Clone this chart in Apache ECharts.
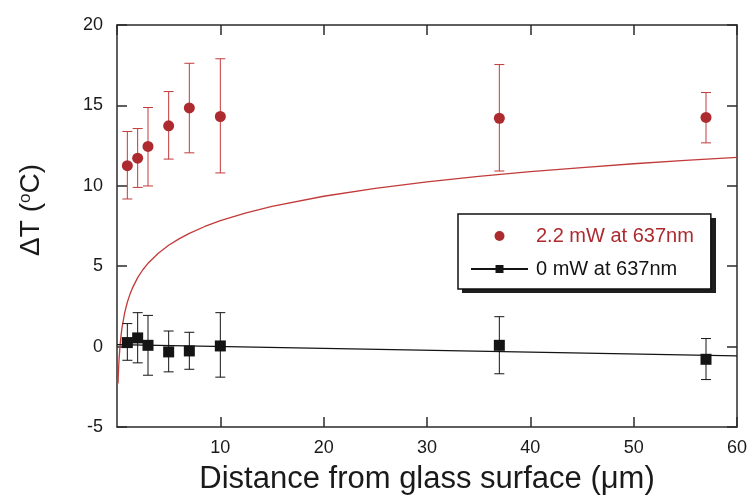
<!DOCTYPE html>
<html>
<head>
<meta charset="utf-8">
<script src="https://cdn.jsdelivr.net/npm/echarts@6/dist/echarts.min.js"></script>
<style>
  html, body { margin: 0; padding: 0; background: #fff; }
  #chart { width: 751px; height: 500px; }
</style>
</head>
<body>
<div id="chart"></div>
<script>
// Distance from the glass surface (µm) of each measurement
var distances = [1, 2, 3, 5, 7, 10, 37, 57];

// Heated sample: 2.2 mW at 637 nm
var heatedDT   = [11.25, 11.72, 12.45, 13.73, 14.84, 14.31, 14.20, 14.25];
var heatedHigh = [13.38, 13.56, 14.87, 15.86, 17.62, 17.90, 17.54, 15.80];
var heatedLow  = [ 9.18,  9.90,  9.99, 11.66, 12.05, 10.80, 10.92, 12.67];

// Control: laser off
var controlDT   = [ 0.25,  0.54,  0.08, -0.33, -0.27,  0.04,  0.08, -0.79];
var controlHigh = [ 1.43,  2.11,  1.94,  0.97,  0.89,  2.11,  1.86,  0.50];
var controlLow  = [-0.85, -1.01, -1.78, -1.57, -1.41, -1.90, -1.69, -2.05];

// Model curve for the heated sample
var modelX  = [0.1, 0.15, 0.2, 0.3, 0.4, 0.5, 0.75, 1, 1.25, 1.5, 2, 2.5, 3, 4, 5, 6, 7, 8.5, 10, 12.5, 15, 20, 25, 30, 35, 40, 45, 50, 55, 60];
var modelDT = [-2.30, -1.41, -0.78, 0.11, 0.74, 1.24, 2.13, 2.76, 3.25, 3.65, 4.29, 4.78, 5.18, 5.81, 6.30, 6.70, 7.04, 7.47, 7.83, 8.32, 8.72, 9.35, 9.84, 10.24, 10.58, 10.88, 11.13, 11.37, 11.58, 11.77];

// Linear fit of the control
var fitX  = [0, 60];
var fitDT = [0.12, -0.58];

// Axis ticks
var xTicks = [0, 10, 20, 30, 40, 50, 60];
var yTicks = [-5, 0, 5, 10, 15, 20];

var seriesNames = ['2.2 mW at 637nm', '0 mW at 637nm'];

var RED = '#ad2a2f';
var RED_LINE = '#c23a3a';
var BLACK = '#141414';
var AXIS = '#2b2b2b';
var FONT = 'Liberation Sans, Arial, sans-serif';

function pairs(xs, ys) {
  return xs.map(function (x, i) { return [x, ys[i]]; });
}

function errorBars(name, xs, lo, hi, color) {
  return {
    type: 'custom',
    name: name,
    silent: true,
    z: 3,
    clip: false,
    data: xs.map(function (x, i) { return [x, lo[i], hi[i]]; }),
    encode: { x: 0, y: [1, 2] },
    renderItem: function (params, api) {
      var x = api.value(0);
      var top = api.coord([x, api.value(2)]);
      var bot = api.coord([x, api.value(1)]);
      var hw = 5;
      var style = { stroke: color, lineWidth: 1 };
      return {
        type: 'group',
        children: [
          { type: 'line', shape: { x1: top[0], y1: top[1], x2: bot[0], y2: bot[1] }, style: style },
          { type: 'line', shape: { x1: top[0] - hw, y1: top[1], x2: top[0] + hw, y2: top[1] }, style: style },
          { type: 'line', shape: { x1: bot[0] - hw, y1: bot[1], x2: bot[0] + hw, y2: bot[1] }, style: style }
        ]
      };
    }
  };
}

var xMin = xTicks[0], xMax = xTicks[xTicks.length - 1], xStep = xTicks[1] - xTicks[0];
var yMin = yTicks[0], yMax = yTicks[yTicks.length - 1], yStep = yTicks[1] - yTicks[0];

var axisLineStyle = { color: AXIS, width: 1.5 };

// Legend box placement, plus a hard drop shadow behind it
var legendBox = { left: 458, top: 214, width: 254, height: 75, shadow: 4 };

var chart = echarts.init(document.getElementById('chart'), null, { renderer: 'canvas' });

chart.setOption({
  backgroundColor: '#fff',
  animation: false,
  grid: { left: 117, top: 25, width: 620, height: 403, containLabel: false },
  graphic: [
    {
      type: 'rect',
      z: 3,
      silent: true,
      shape: {
        x: legendBox.left + legendBox.shadow,
        y: legendBox.top + legendBox.shadow,
        width: legendBox.width,
        height: legendBox.height
      },
      style: { fill: '#1e1e1e' }
    }
  ],
  legend: {
    orient: 'vertical',
    left: legendBox.left,
    top: legendBox.top,
    z: 10,
    padding: [12, 17, 10, 12],
    itemWidth: 57,
    itemHeight: 10,
    itemGap: 13,
    backgroundColor: '#fff',
    borderColor: '#111',
    borderWidth: 1.5,
    borderRadius: 0,
    textStyle: { fontFamily: FONT, fontSize: 20, padding: [0, 0, 0, 3] },
    data: [
      { name: seriesNames[0], textStyle: { color: RED } },
      { name: seriesNames[1], textStyle: { color: BLACK } }
    ]
  },
  xAxis: [
    {
      type: 'value', position: 'bottom', min: xMin, max: xMax, interval: xStep,
      name: 'Distance from glass surface (\u03bcm)',
      nameLocation: 'middle', nameGap: 37,
      nameTextStyle: { fontFamily: FONT, fontSize: 31, color: '#1a1a1a' },
      axisLine: { show: true, onZero: false, lineStyle: axisLineStyle },
      axisTick: { show: true, inside: true, length: 10, lineStyle: axisLineStyle },
      axisLabel: { showMinLabel: false, margin: 12, fontFamily: FONT, fontSize: 18, color: '#1a1a1a' },
      splitLine: { show: false }
    },
    {
      type: 'value', position: 'top', min: xMin, max: xMax, interval: xStep,
      axisLine: { show: true, onZero: false, lineStyle: axisLineStyle },
      axisTick: { show: true, inside: true, length: 10, lineStyle: axisLineStyle },
      axisLabel: { show: false },
      splitLine: { show: false }
    }
  ],
  yAxis: [
    {
      type: 'value', position: 'left', min: yMin, max: yMax, interval: yStep,
      name: '{t|\u0394T (}{s|o}{t|C)}',
      nameLocation: 'middle', nameGap: 72,
      nameTextStyle: {
        padding: [0, 0, 0, 32],
        rich: {
          t: { fontFamily: FONT, fontSize: 28, color: '#1a1a1a' },
          s: { fontFamily: FONT, fontSize: 17, color: '#1a1a1a', verticalAlign: 'top' }
        }
      },
      axisLine: { show: true, onZero: false, lineStyle: axisLineStyle },
      axisTick: { show: true, inside: true, length: 10, lineStyle: axisLineStyle },
      axisLabel: { margin: 14, fontFamily: FONT, fontSize: 18, color: '#1a1a1a' },
      splitLine: { show: false }
    },
    {
      type: 'value', position: 'right', min: yMin, max: yMax, interval: yStep,
      axisLine: { show: true, onZero: false, lineStyle: axisLineStyle },
      axisTick: { show: true, inside: true, length: 10, lineStyle: axisLineStyle },
      axisLabel: { show: false },
      splitLine: { show: false }
    }
  ],
  series: [
    {
      type: 'line',
      name: 'model',
      data: pairs(modelX, modelDT),
      symbol: 'none',
      smooth: false,
      lineStyle: { color: RED_LINE, width: 1.3 },
      z: 2,
      silent: true
    },
    errorBars('heated error', distances, heatedLow, heatedHigh, RED_LINE),
    {
      type: 'scatter',
      name: seriesNames[0],
      data: pairs(distances, heatedDT),
      symbol: 'circle',
      symbolSize: 11,
      itemStyle: { color: RED, opacity: 1 },
      z: 5
    },
    {
      type: 'line',
      name: seriesNames[1],
      data: pairs(fitX, fitDT),
      symbol: 'rect',
      showSymbol: false,
      lineStyle: { color: BLACK, width: 1.3 },
      itemStyle: { color: BLACK },
      z: 2,
      silent: true
    },
    errorBars('control error', distances, controlLow, controlHigh, BLACK),
    {
      type: 'scatter',
      name: 'control points',
      data: pairs(distances, controlDT),
      symbol: 'rect',
      symbolSize: 11,
      itemStyle: { color: BLACK, opacity: 1 },
      z: 5
    }
  ]
});
</script>
</body>
</html>
